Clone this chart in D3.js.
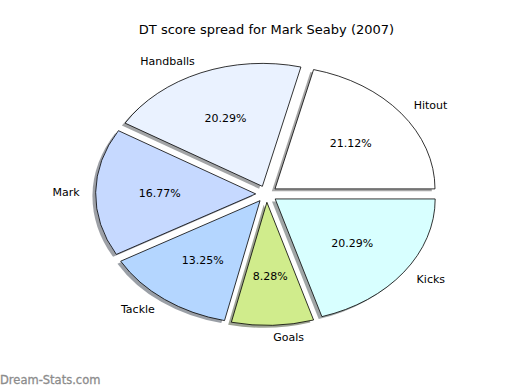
<!DOCTYPE html>
<html>
<head>
<meta charset="utf-8">
<script src="https://cdn.jsdelivr.net/npm/d3@7"></script>
<style>
  body { margin: 0; background: #fff; }
  text { font-family: "DejaVu Sans", sans-serif; }
</style>
</head>
<body>
<div id="chart"></div>
<script>
"use strict";

// slices, in the order matplotlib draws them (counter-clockwise from 3 o'clock)
const categories = ["Hitout", "Handballs", "Mark", "Tackle", "Goals", "Kicks"];
const shares = [21.12, 20.29, 16.77, 13.25, 8.28, 20.29];
const colours = ["#ffffff", "#eaf2ff", "#c6d9ff", "#b4d6ff", "#d0ec8c", "#d8ffff"];

const width = 520, height = 390;
const cx = 266.5, cy = 194, rx = 160, ry = 123;
const explode = 0.0675, labelDist = 1.1, pctDist = 0.6;

const svg = d3.select("#chart")
    .append("svg")
    .attr("width", width)
    .attr("height", height);

// unit circle -> ellipse on screen
const x = d3.scaleLinear().domain([-1, 1]).range([cx - rx, cx + rx]);
const y = d3.scaleLinear().domain([-1, 1]).range([cy + ry, cy - ry]);

const pie = d3.pie()
    .sort(null)
    .startAngle(Math.PI / 2)
    .endAngle(Math.PI / 2 - 2 * Math.PI);

const arcs = pie(shares);
const arc = d3.arc().innerRadius(0).outerRadius(1);

// direction of the middle of a slice, unit coords (y up)
const mid = d => {
    const a = (d.startAngle + d.endAngle) / 2;
    return [Math.sin(a), Math.cos(a)];
};

const shade = c => {
    const r = d3.rgb(c);
    return d3.rgb(r.r * 0.3, r.g * 0.3, r.b * 0.3).toString();
};

const pieG = svg.append("g")
    .attr("transform", "translate(" + x(0) + "," + y(0) + ") scale(" + rx + "," + ry + ")");

// shadows first, all of them under the wedges
pieG.selectAll("path.shadow")
    .data(arcs)
    .join("path")
    .attr("class", "shadow")
    .attr("transform", d => {
        const m = mid(d);
        return "translate(" + (explode * m[0] - 0.02) + "," + (-explode * m[1] + 0.02) + ")";
    })
    .attr("d", arc)
    .attr("fill", (d, i) => shade(colours[i]))
    .attr("fill-opacity", 0.5);

pieG.selectAll("path.wedge")
    .data(arcs)
    .join("path")
    .attr("class", "wedge")
    .attr("transform", d => {
        const m = mid(d);
        return "translate(" + (explode * m[0]) + "," + (-explode * m[1]) + ")";
    })
    .attr("d", arc)
    .attr("fill", (d, i) => colours[i])
    .attr("stroke", "#000")
    .attr("stroke-width", 0.8)
    .attr("vector-effect", "non-scaling-stroke");

// category labels
svg.selectAll("text.label")
    .data(arcs)
    .join("text")
    .attr("class", "label")
    .attr("x", d => x(mid(d)[0] * (explode + labelDist)))
    .attr("y", d => y(mid(d)[1] * (explode + labelDist)))
    .attr("dy", "0.35em")
    .attr("text-anchor", d => mid(d)[0] > 0 ? "start" : "end")
    .style("font-size", "11px")
    .text((d, i) => categories[i]);

// percentages
svg.selectAll("text.pct")
    .data(arcs)
    .join("text")
    .attr("class", "pct")
    .attr("x", d => x(mid(d)[0] * (explode + pctDist)))
    .attr("y", d => y(mid(d)[1] * (explode + pctDist)))
    .attr("dy", "0.35em")
    .attr("text-anchor", "middle")
    .style("font-size", "11px")
    .text(d => d.data.toFixed(2) + "%");

svg.append("text")
    .attr("x", cx)
    .attr("y", 34)
    .attr("text-anchor", "middle")
    .style("font-size", "13px")
    .text("DT score spread for Mark Seaby (2007)");

// watermark
svg.append("text")
    .attr("x", 0)
    .attr("y", 384)
    .style("font-size", "11.5px")
    .attr("fill", "#8c8c8c")
    .attr("stroke", "#8c8c8c")
    .attr("stroke-width", 0.3)
    .text("Dream-Stats.com");
</script>
</body>
</html>
